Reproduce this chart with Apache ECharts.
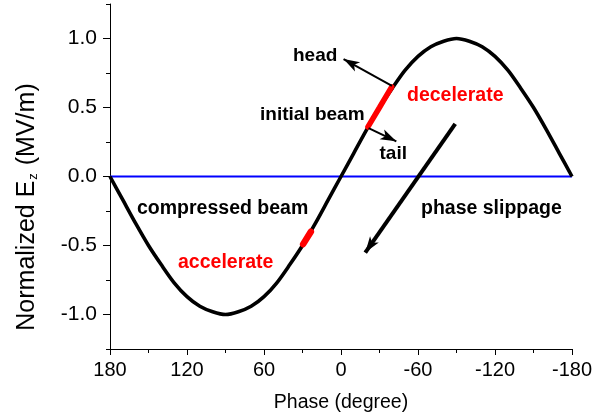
<!DOCTYPE html>
<html>
<head>
<meta charset="utf-8">
<script src="https://cdn.jsdelivr.net/npm/echarts@6/dist/echarts.min.js"></script>
<style>
html,body{margin:0;padding:0;background:#fff;}
#c{width:614px;height:419px;}
</style>
</head>
<body>
<div id="c"></div>
<script>
// Field curve: phase (degree) and normalized Ez (MV/m)
var phase = [180,170,160,150,140,130,120,110,100,90,80,70,60,50,40,30,20,10,0,-10,-20,-30,-40,-50,-60,-70,-80,-90,-100,-110,-120,-130,-140,-150,-160,-170,-180];
var ez = [0,-0.17,-0.34,-0.50,-0.64,-0.77,-0.87,-0.94,-0.98,-1.00,-0.98,-0.94,-0.87,-0.77,-0.64,-0.50,-0.34,-0.17,0,0.17,0.34,0.50,0.64,0.77,0.87,0.94,0.98,1.00,0.98,0.94,0.87,0.77,0.64,0.50,0.34,0.17,0];
// zero line
var zeroPhase = [180,-180];
var zeroEz = [0,0];
// initial beam (red, decelerating side)
var initPhase = [-21,-30,-39.5];
var initEz = [0.36,0.50,0.65];
// compressed beam (red, accelerating side)
var compPhase = [23.5,29.5];
var compEz = [-0.40,-0.49];
// annotation arrows [fromPhase, fromEz, toPhase, toEz]
var headArrow = [-39.7,0.657,-2.0,0.851];
var tailArrow = [-21.5,0.351,-43.1,0.255];
var slipArrow = [-89.0,0.382,-18.9,-0.551];
// tick labels
var xTicks = [180,120,60,0,-60,-120,-180];
var yTicks = [-1.0,-0.5,0.0,0.5,1.0];
var yMinorTicks = [-1.25,-0.75,-0.25,0.25,0.75,1.25];

function pairs(a,b){ return a.map(function(v,i){ return [v,b[i]]; }); }
function arrow(a){ return [{coord:[a[0],a[1]]},{coord:[a[2],a[3]]}]; }

var FONT = '"Liberation Sans", Arial, sans-serif';
var chart = echarts.init(document.getElementById('c'), null, {renderer:'canvas'});
var option = {
  animation:false,
  backgroundColor:'#ffffff',
  grid:{left:110,right:42,top:4,bottom:70,outerBoundsMode:'none',containLabel:false},
  xAxis:{
    type:'value', min:-180, max:180, interval:60, inverse:true,
    axisLine:{show:true,onZero:false,lineStyle:{color:'#000',width:1}},
    axisTick:{show:true,length:6,lineStyle:{color:'#000',width:1}},
    minorTick:{show:true,splitNumber:2,length:4,lineStyle:{color:'#000',width:1}},
    splitLine:{show:false}, minorSplitLine:{show:false},
    axisLabel:{color:'#000',fontSize:20,fontFamily:FONT,margin:11,
      formatter:function(v){ return xTicks.indexOf(v)>=0 ? String(v) : ''; }},
    name:'Phase (degree)', nameLocation:'middle', nameGap:44,
    nameTextStyle:{color:'#000',fontSize:19.5,fontFamily:FONT}
  },
  yAxis:[{
    type:'value', min:-1.25, max:1.25, position:'left',
    axisLine:{show:true,onZero:false,lineStyle:{color:'#000',width:1}},
    axisTick:{show:true,length:7,customValues:yTicks,lineStyle:{color:'#000',width:1}},
    splitLine:{show:false},
    axisLabel:{color:'#000',fontSize:21,fontFamily:FONT,margin:13,customValues:yTicks,
      formatter:function(v){ return v.toFixed(1); }}
  },{
    type:'value', min:-1.25, max:1.25, position:'left', offset:0,
    axisLine:{show:false,onZero:false},
    axisTick:{show:true,length:4,customValues:yMinorTicks,lineStyle:{color:'#000',width:1}},
    splitLine:{show:false},
    axisLabel:{show:false}
  }],
  series:[
    {type:'line', data:pairs(zeroPhase,zeroEz), symbol:'none', silent:true,
     lineStyle:{color:'#0000ff',width:2.2}, z:2,
     markLine:{silent:true, symbol:['none','arrow'], label:{show:false}, animation:false,
       data:[
         arrow(headArrow),
         arrow(tailArrow),
         arrow(slipArrow)
       ].map(function(d,i){
         var big = (i===2);
         d[0].lineStyle = {color:'#000',width:big?4:2,type:'solid'};
         d[0].symbolSize = big?[18,26]:[10,12];
         return d;
       }),
       emphasis:{disabled:true}
     }},
    {type:'line', data:pairs(phase,ez), symbol:'none', smooth:0.3, silent:true,
     lineStyle:{color:'#000',width:3.6}, z:3},
    {type:'line', data:pairs(initPhase,initEz), symbol:'none', silent:true,
     lineStyle:{color:'#ff0000',width:5.5,cap:'round'}, z:4},
    {type:'line', data:pairs(compPhase,compEz), symbol:'none', silent:true,
     lineStyle:{color:'#ff0000',width:6.5,cap:'round'}, z:4}
  ],
  graphic:[
    {type:'text', x:27, y:207, rotation:Math.PI/2, silent:true,
     style:{text:'{a|Normalized E}{s|z}{a| (MV/m)}', align:'center', verticalAlign:'middle',
       rich:{a:{fontSize:25,fontFamily:FONT,fill:'#000'},
             s:{fontSize:13,fontFamily:FONT,fill:'#000',padding:[13,1,0,1]}}}},
    {type:'text', x:293, y:56, silent:true, style:{text:'head', fill:'#000', font:'bold 19px '+FONT, verticalAlign:'middle'}},
    {type:'text', x:260, y:115, silent:true, style:{text:'initial beam', fill:'#000', font:'bold 19px '+FONT, verticalAlign:'middle'}},
    {type:'text', x:407, y:96, silent:true, style:{text:'decelerate', fill:'#ff0000', font:'bold 19.5px '+FONT, verticalAlign:'middle'}},
    {type:'text', x:379.5, y:154, silent:true, style:{text:'tail', fill:'#000', font:'bold 19px '+FONT, verticalAlign:'middle'}},
    {type:'text', x:137, y:208.5, silent:true, style:{text:'compressed beam', fill:'#000', font:'bold 19.5px '+FONT, verticalAlign:'middle'}},
    {type:'text', x:178, y:263, silent:true, style:{text:'accelerate', fill:'#ff0000', font:'bold 19.5px '+FONT, verticalAlign:'middle'}},
    {type:'text', x:421, y:209, silent:true, style:{text:'phase slippage', fill:'#000', font:'bold 19.5px '+FONT, verticalAlign:'middle'}}
  ]
};
chart.setOption(option);
</script>
</body>
</html>
